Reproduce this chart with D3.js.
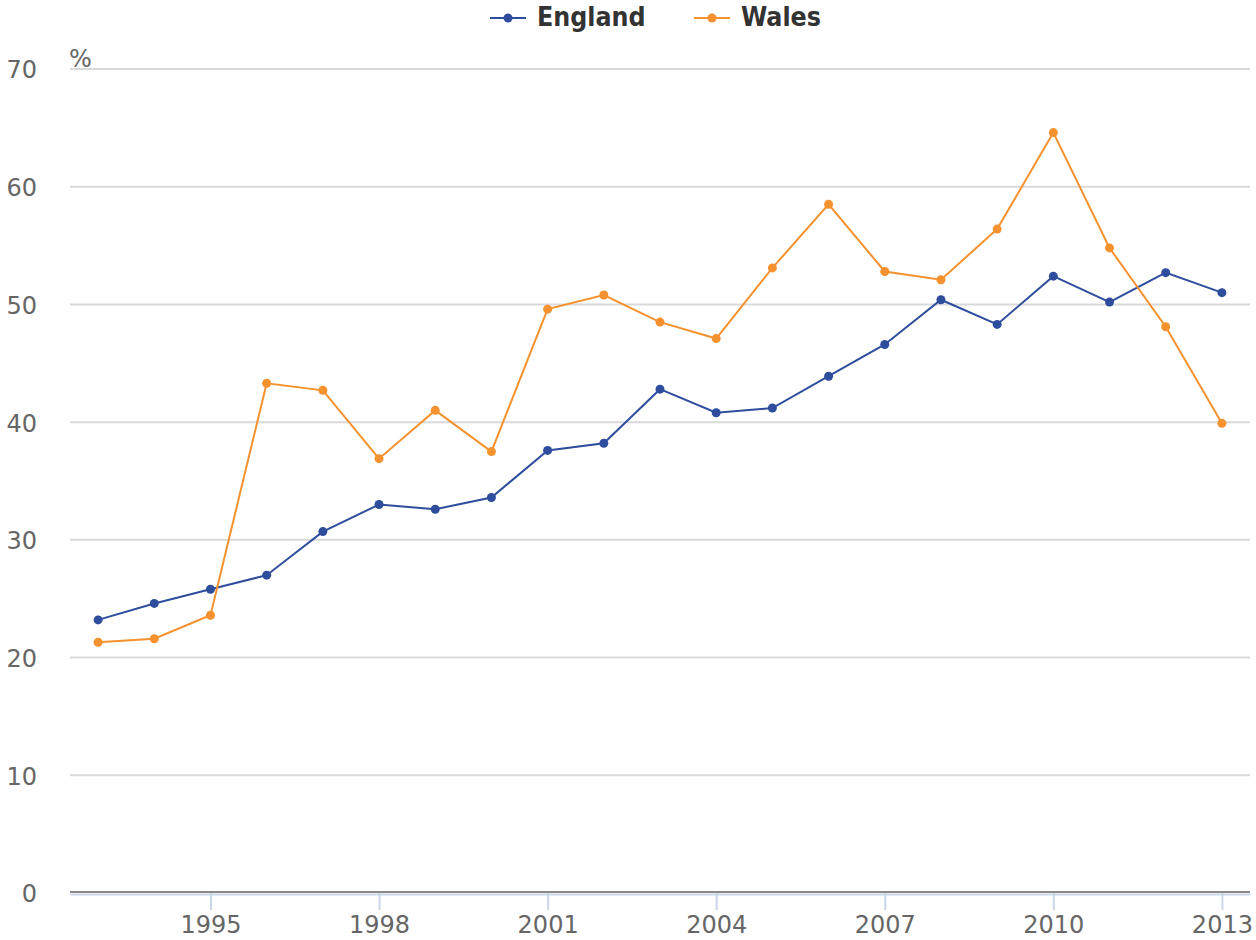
<!DOCTYPE html>
<html><head><meta charset="utf-8">
<script src="https://cdn.jsdelivr.net/npm/d3@7"></script>
<style>body{margin:0;background:#fff}svg{display:block}</style>
</head><body>
<svg id="c" width="1256" height="940"></svg>
<script>
const years = [1993,1994,1995,1996,1997,1998,1999,2000,2001,2002,2003,2004,2005,2006,2007,2008,2009,2010,2011,2012,2013];
const england = [23.2,24.6,25.8,27.0,30.7,33.0,32.6,33.6,37.6,38.2,42.8,40.8,41.2,43.9,46.6,50.4,48.3,52.4,50.2,52.7,51.0];
const wales = [21.3,21.6,23.6,43.3,42.7,36.9,41.0,37.5,49.6,50.8,48.5,47.1,53.1,58.5,52.8,52.1,56.4,64.6,54.8,48.1,39.9];
const xTicks = [1995,1998,2001,2004,2007,2010,2013];
const yTicks = [0,10,20,30,40,50,60,70];
const seriesNames = ["England","Wales"];
const colors = ["#2e4d9c","#f5922f"];

const svg = d3.select("#c");
const L = 70, R = 1250, T = 69, B = 893;
const x = d3.scaleLinear().domain([1992.5, 2013.5]).range([L, R]);
const y = d3.scaleLinear().domain([0, 70]).range([B, T]);
const font = "'DejaVu Sans', sans-serif";

// gridlines
svg.append("g").selectAll("line").data(yTicks.filter(d=>d>0)).join("line")
  .attr("x1", L).attr("x2", R).attr("y1", d=>y(d)).attr("y2", d=>y(d))
  .attr("stroke", "#d9d9d9").attr("stroke-width", 2);

// y labels
svg.append("g").selectAll("text").data(yTicks).join("text")
  .attr("x", 37).attr("y", d=>y(d)+1).attr("dy", "0.35em")
  .attr("text-anchor", "end").attr("font-family", font).attr("font-size", 24)
  .attr("fill", "#666").text(d=>d);

svg.append("text").attr("x", 69).attr("y", 67).attr("font-family", font)
  .attr("font-size", 24).attr("fill", "#666").text("%");

// x axis
const xAxis = d3.axisBottom(x).tickValues(xTicks).tickFormat(d3.format("d")).tickSize(17).tickSizeOuter(0);
const gx = svg.append("g").attr("transform", `translate(0,${B})`).call(xAxis);
gx.select(".domain").attr("stroke", "#ccd6eb").attr("stroke-width", 2).attr("transform","translate(0,1)");
gx.selectAll(".tick line").attr("stroke", "#ccd6eb").attr("stroke-width", 2);
gx.selectAll(".tick text").attr("font-family", font).attr("font-size", 24).attr("fill", "#666").attr("dy", "0.95em").attr("y", 17);
svg.append("line").attr("x1", L).attr("x2", R).attr("y1", y(0)-1).attr("y2", y(0)-1)
  .attr("stroke", "#8a8a8a").attr("stroke-width", 2);

// series
const data = [england, wales];
const line = d3.line().x((d,i)=>x(years[i])).y(d=>y(d));
data.forEach((vals, k) => {
  const g = svg.append("g");
  g.append("path").datum(vals).attr("d", line).attr("fill", "none")
    .attr("stroke", colors[k]).attr("stroke-width", 2);
  g.selectAll("circle").data(vals).join("circle")
    .attr("cx", (d,i)=>x(years[i])).attr("cy", d=>y(d)).attr("r", 4.5)
    .attr("fill", colors[k]);
});

// legend
const legX = [490, 694];
seriesNames.forEach((n, k) => {
  const g = svg.append("g").attr("transform", `translate(${legX[k]},18)`);
  g.append("line").attr("x1", 0).attr("x2", 36).attr("stroke", colors[k]).attr("stroke-width", 2);
  g.append("circle").attr("cx", 18).attr("r", 4.5).attr("fill", colors[k]);
  g.append("text").attr("x", 47).attr("y", -2).attr("dy", "0.36em")
    .attr("font-family", "'DejaVu Sans Condensed','DejaVu Sans',sans-serif").attr("font-weight", "bold")
    .attr("font-size", 26.5).attr("fill", "#333").text(n);
});
</script>
</body></html>
